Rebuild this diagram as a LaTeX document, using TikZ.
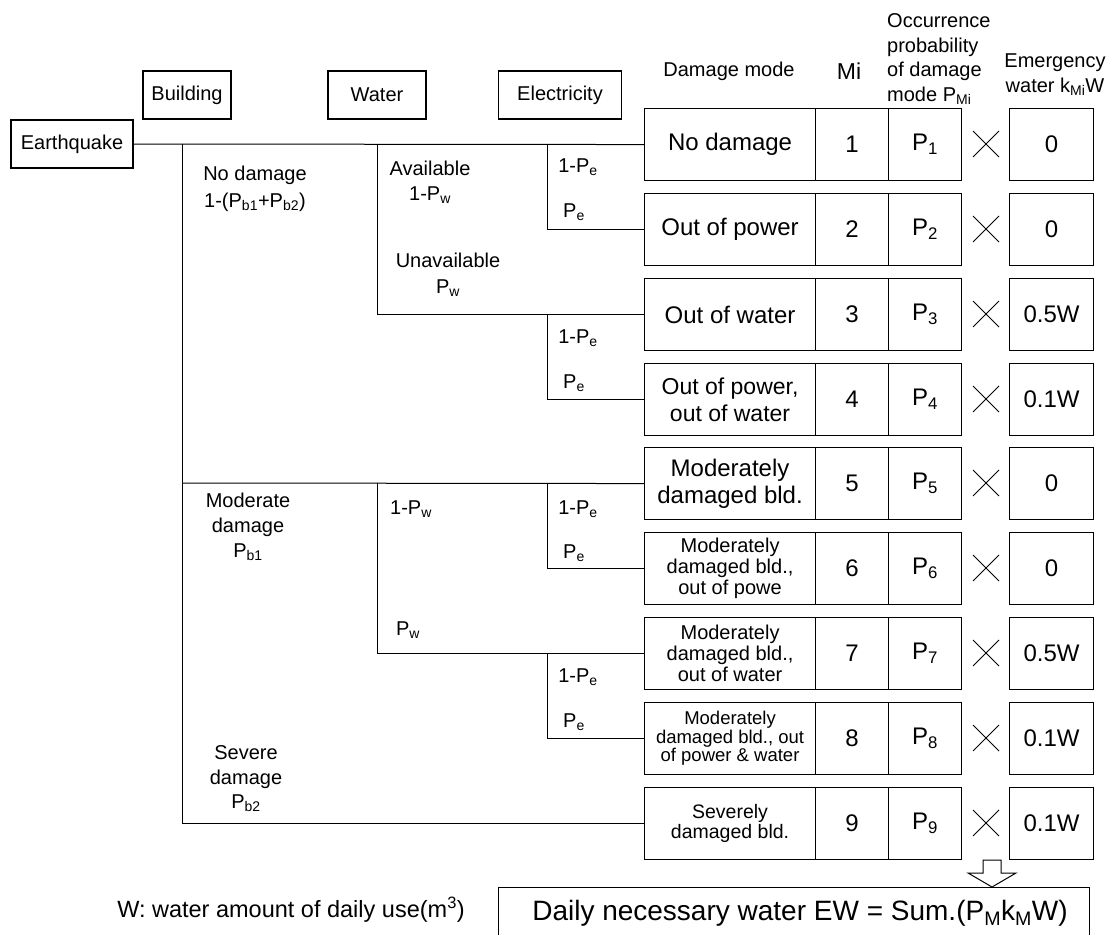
\documentclass[tikz,border=0pt]{standalone}
\usepackage{fontspec}
\setmainfont{Liberation Sans}
\usetikzlibrary{shapes.misc}
\newcommand\fs[2]{\fontsize{#1}{#2}\selectfont}
\newcommand\sub[1]{\textsubscript{#1}}
\tikzset{
  hdr/.style={draw, line width=1.1pt, minimum height=48, inner sep=0, font=\fs{20}{24}},
  cell/.style={draw, line width=1.1pt, minimum height=72, inner sep=0, anchor=north west, align=center},
  lbl/.style={inner sep=0, align=center, font=\fs{20}{25}},
  conn/.style={line width=1pt},
  xmark/.style={cross out, draw, line width=1pt, minimum size=25, inner sep=0},
}
% row: #1 index, #2 font, #3 damage text, #4 emergency value
\newcommand\mkrow[4]{%
  \pgfmathsetmacro\rt{round(108+84.85*(#1-1))}%
  \pgfmathsetmacro\rc{\rt+36}%
  \node[cell, minimum width=171, font=#2] (d#1) at (644,\rt) {#3};
  \node[cell, minimum width=73, font=\fs{24}{27}] (m#1) at (815,\rt) {#1};
  \node[cell, minimum width=73, font=\fs{24}{27}] (p#1) at (888,\rt) {P\sub{#1}};
  \node[xmark] (x#1) at (986,\rc) {};
  \node[cell, minimum width=84, font=\fs{24}{27}] (k#1) at (1009,\rt) {#4};
}
\begin{document}
\begin{tikzpicture}[x=1pt, y=-1pt]
\useasboundingbox (0,0) rectangle (1107,934);

% header boxes
\node[hdr, minimum width=122] (eq) at (72,144) {Earthquake};
\node[hdr, minimum width=88] (bld) at (187,95) {Building};
\node[hdr, minimum width=98] (wat) at (377,95) {Water};
\node[hdr, minimum width=123] (ele) at (560,95) {Electricity};

% column headers
\node[lbl] (hdm) at (729,71) {Damage mode};
\node[lbl, font=\fs{23}{25}] (hmi) at (849,71) {Mi};
\node[lbl, align=left, anchor=west, font=\fs{20}{24.5}] (hocc) at (887,59) {Occurrence\\probability\\of damage\\mode P\sub{Mi}};
\node[lbl] (hem) at (1055,75) {Emergency\\water k\sub{Mi}W};

% rows
\mkrow{1}{\fs{24}{27}}{No damage}{0}
\mkrow{2}{\fs{24}{27}}{Out of power}{0}
\mkrow{3}{\fs{24}{27}}{Out of water}{0.5W}
\mkrow{4}{\fs{23}{26.5}}{Out of power,\\out of water}{0.1W}
\mkrow{5}{\fs{24}{26.5}}{Moderately\\damaged bld.}{0}
\mkrow{6}{\fs{20}{21}}{Moderately\\damaged bld.,\\out of powe}{0}
\mkrow{7}{\fs{20}{21}}{Moderately\\damaged bld.,\\out of water}{0.5W}
\mkrow{8}{\fs{18.5}{18.5}}{Moderately\\damaged bld., out\\of power \& water}{0.1W}
\mkrow{9}{\fs{19.5}{19.5}}{Severely\\damaged bld.}{0.1W}

% tree coordinates
\coordinate (b0) at (182,144);
\coordinate (w0) at (377,144);
\coordinate (e0) at (547,144);
\coordinate (e3) at (547,314);
\coordinate (b5) at (182,483);
\coordinate (w5) at (377,483);
\coordinate (e5) at (547,483);
\coordinate (e7) at (547,653);

% connectors
\draw[conn] (eq.east) -- (d1.west);
\draw[conn] (b0) |- (d9.west);
\draw[conn] (b5) -- (d5.west);
\draw[conn] (w0) |- (d3.west);
\draw[conn] (e0) |- (d2.west);
\draw[conn] (e3) |- (d4.west);
\draw[conn] (w5) |- (d7.west);
\draw[conn] (e5) |- (d6.west);
\draw[conn] (e7) |- (d8.west);

% branch labels
\node[lbl, font=\fs{20}{27}] (lnd) at (255,188.5) {No damage\\1-(P\sub{b1}+P\sub{b2})};
\node[lbl] (lav) at (430,182.5) {Available\\1-P\sub{w}};
\node[lbl, font=\fs{20}{26}] (lun) at (448,275) {Unavailable\\P\sub{w}};
\node[lbl] (le1a) at (578,167) {1-P\sub{e}};
\node[lbl] (le1b) at (574,212) {P\sub{e}};
\node[lbl] (le2a) at (578,338) {1-P\sub{e}};
\node[lbl] (le2b) at (574,383) {P\sub{e}};
\node[lbl] (lmd) at (248,527) {Moderate\\damage\\P\sub{b1}};
\node[lbl] (lmw1) at (411,509) {1-P\sub{w}};
\node[lbl] (le3a) at (578,509) {1-P\sub{e}};
\node[lbl] (le3b) at (574,553) {P\sub{e}};
\node[lbl] (lmw2) at (408,630) {P\sub{w}};
\node[lbl] (le4a) at (578,677) {1-P\sub{e}};
\node[lbl] (le4b) at (574,722) {P\sub{e}};
\node[lbl, font=\fs{20}{24.5}] (lsd) at (246,779) {Severe\\damage\\P\sub{b2}};

% bottom
\node[lbl, font=\fs{23.5}{25}] (wdef) at (291,910) {W: water amount of daily use(m\textsuperscript{3})};
\node[draw, line width=1.1pt, anchor=north west, minimum width=591, minimum height=80, inner sep=0] (sumbox) at (498,887) {};
\node[lbl, font=\fs{28}{30}] (sumtxt) at (800,913) {Daily necessary water EW = Sum.(P\sub{M}k\sub{M}W)};

% hollow arrow
\draw[line width=1pt, fill=white] (983,860) -- (1001,860) -- (1001,873) -- (1016,873) -- (992,887) -- (968,873) -- (983,873) -- cycle;
\end{tikzpicture}
\end{document}
